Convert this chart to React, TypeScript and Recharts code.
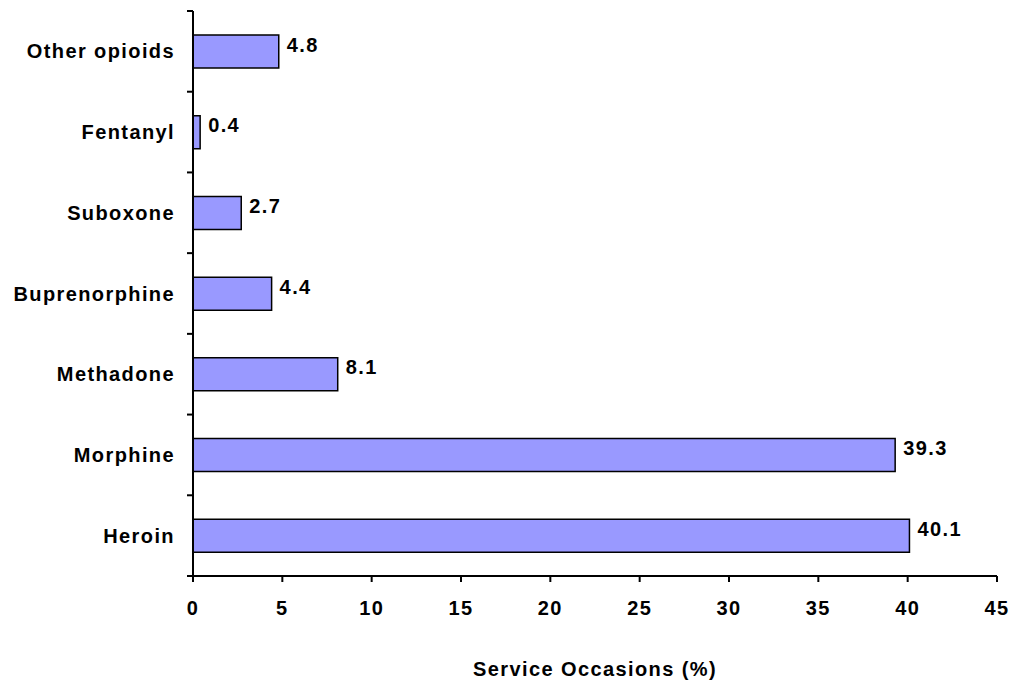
import React from 'react';
import { BarChart, Bar, XAxis, YAxis, LabelList, Label } from 'recharts';

const categories = ['Other opioids', 'Fentanyl', 'Suboxone', 'Buprenorphine', 'Methadone', 'Morphine', 'Heroin'];
const values = [4.8, 0.4, 2.7, 4.4, 8.1, 39.3, 40.1];
const xTicks = [0, 5, 10, 15, 20, 25, 30, 35, 40, 45];
const xTitle = 'Service Occasions (%)';

const data = categories.map((c, i) => ({ name: c, value: values[i] }));

const FONT = '"Liberation Sans", Arial, sans-serif';
const FS = 20;
const LS = 1.4;
const W = 1011;
const H = 682;
const MARGIN = { top: 11, right: 14, bottom: 0, left: 0 };
const XAXIS_H = 106;
const PLOT_H = H - MARGIN.top - MARGIN.bottom - XAXIS_H;
const BAND = PLOT_H / categories.length;

const YTick = (props: any) => {
  const { x, y, payload, index } = props;
  const axisX = x + 18;
  const isLast = index === categories.length - 1;
  return (
    <g>
      <line x1={axisX - 6} x2={axisX} y1={y - BAND / 2} y2={y - BAND / 2} stroke="#000" strokeWidth={2} />
      {isLast && (
        <line x1={axisX - 6} x2={axisX} y1={y + BAND / 2} y2={y + BAND / 2} stroke="#000" strokeWidth={2} />
      )}
      <text
        x={x}
        y={y}
        textAnchor="end"
        dominantBaseline="central"
        fontFamily={FONT}
        fontWeight="bold"
        fontSize={FS}
        letterSpacing={LS}
        fill="#000"
      >
        {payload.value}
      </text>
    </g>
  );
};

const XTick = (props: any) => {
  const { x, y, payload } = props;
  return (
    <text
      x={x}
      y={y}
      dy="0.71em"
      textAnchor="middle"
      fontFamily={FONT}
      fontWeight="bold"
      fontSize={FS}
      letterSpacing={LS}
      fill="#000"
    >
      {payload.value}
    </text>
  );
};

const BarValue = (props: any) => {
  const { x, y, width, height, value } = props;
  return (
    <text
      x={x + width + 8}
      y={y + height / 2 - 7}
      dominantBaseline="central"
      textAnchor="start"
      fontFamily={FONT}
      fontWeight="bold"
      fontSize={FS}
      letterSpacing={LS}
      fill="#000"
    >
      {value}
    </text>
  );
};

export default function App() {
  return (
    <div style={{ position: 'absolute', left: 0, top: 0, width: W, height: H, background: '#fff' }}>
      <BarChart width={W} height={H} data={data} layout="vertical" margin={MARGIN}>
        <XAxis
          type="number"
          domain={[0, 45]}
          ticks={xTicks}
          interval={0}
          height={XAXIS_H}
          axisLine={{ stroke: '#000', strokeWidth: 2 }}
          tickLine={{ stroke: '#000', strokeWidth: 2 }}
          tickSize={6}
          tickMargin={19}
          tick={<XTick />}
        >
          <Label
            value={xTitle}
            position="insideBottom"
            offset={6}
            style={{ fontFamily: FONT, fontWeight: 'bold', fontSize: FS, letterSpacing: LS, fill: '#000' }}
          />
        </XAxis>
        <YAxis
          type="category"
          dataKey="name"
          width={193}
          interval={0}
          axisLine={{ stroke: '#000', strokeWidth: 2 }}
          tickLine={false}
          tickSize={6}
          tickMargin={12}
          tick={<YTick />}
        />
        <Bar dataKey="value" fill="#9999FF" stroke="#000" strokeWidth={1.5} barSize={33} isAnimationActive={false}>
          <LabelList dataKey="value" content={<BarValue />} />
        </Bar>
      </BarChart>
    </div>
  );
}
